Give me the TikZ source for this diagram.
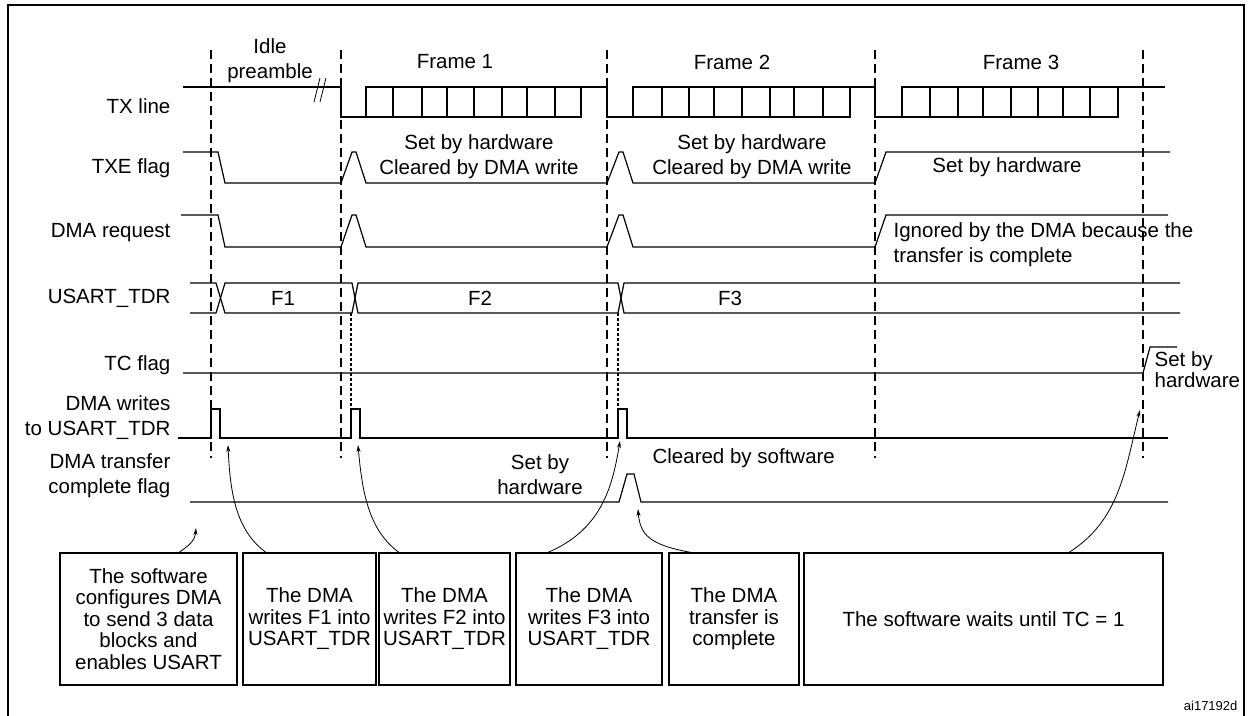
\documentclass[tikz,border=0pt]{standalone}
\usepackage{fontspec}
\setmainfont{Liberation Sans}
\usetikzlibrary{arrows.meta}
\begin{document}
\begin{tikzpicture}[x=1pt,y=-1pt,line width=1.2pt,
  lbl/.style={anchor=east,inner sep=0pt,font=\fontsize{20.5}{25}\selectfont},
  txt/.style={inner sep=0pt,font=\fontsize{20.5}{25}\selectfont,align=center},
  box/.style={draw,inner sep=0pt,font=\fontsize{20.5}{21.5}\selectfont,align=center},
  vdash/.style={dash pattern=on 9pt off 5pt},
  fdash/.style={dash pattern=on 3pt off 2pt},
  arr/.style={-{Stealth[length=7pt,width=4pt]},line width=0.8pt}]
\useasboundingbox (0,0) rectangle (1250,715);
\draw[line width=1.5pt] (8,716) -- (8,5) -- (1244,5) -- (1244,716);
% dashed verticals
\foreach \x in {211,341,607,875,1143} \draw[vdash] (\x,50) -- (\x,458);
\draw[fdash] (351,313) -- (351,409);
\draw[fdash] (618,313) -- (618,409);
% labels
\node[lbl] (lTX) at (171,106) {TX line};
\node[lbl] (lTXE) at (171,168) {TXE flag};
\node[lbl] (lDR) at (171,233) {DMA request};
\node[lbl] (lTDR) at (171,298) {USART\_TDR};
\node[lbl] (lTC) at (171,365) {TC flag};
\node[lbl,align=right] (lDW) at (171,418) {DMA writes\\to USART\_TDR};
\node[lbl,align=right] (lTF) at (171,476) {DMA transfer\\complete flag};
% TX line
\draw (183,87) -- (341,87) -- (341,117) -- (581,117);
\draw (366,87) -- (607,87) -- (607,117) -- (850,117);
\draw (633,87) -- (875,87) -- (875,117) -- (1118,117);
\draw (902,87) -- (1165,87);
\foreach \a/\b in {366/393,393/422,422/447,447/474,474/502,502/527,527/555,555/581,
  633/662,662/689,689/714,714/742,742/770,770/794,794/823,823/850,
  902/930,930/958,958/983,983/1011,1011/1038,1038/1063,1063/1090,1090/1118}
  \draw (\a,87) rectangle (\b,117);
\draw[line width=0.8pt] (314,102) -- (320,78) (320,102) -- (326,78);
\node[txt] (idle) at (270,61) {Idle\\preamble};
\node[txt] (f1) at (455,62) {Frame 1};
\node[txt] (f2) at (732,62) {Frame 2};
\node[txt] (f3) at (1021,62) {Frame 3};
% TXE flag
\draw (183,152) -- (218,152) -- (225,183) -- (341,183) -- (352,152) -- (356,152) -- (366,183)
  -- (607,183) -- (619,152) -- (623,152) -- (633,183) -- (875,183) -- (886,152) -- (1170,152);
\node[txt] (t1) at (479,157) {Set by hardware\\Cleared by DMA write};
\node[txt] (t2) at (752,157) {Set by hardware\\Cleared by DMA write};
\node[txt] (t3) at (1007,167) {Set by hardware};
% DMA request
\draw (181,215) -- (218,215) -- (225,247) -- (341,247) -- (352,215) -- (356,215) -- (366,247)
  -- (607,247) -- (619,215) -- (623,215) -- (633,247) -- (875,247) -- (886,215) -- (1168,215);
\node[txt,align=left,anchor=west] (ign) at (893,245) {Ignored by the DMA because the\\transfer is complete};
% USART_TDR
\draw (190,283) -- (216,283) -- (225,313) -- (352,313) -- (358,283) -- (618,283) -- (624,313) -- (1180,313);
\draw (190,313) -- (216,313) -- (225,283) -- (352,283) -- (358,313) -- (618,313) -- (624,283) -- (1180,283);
\node[txt] (F1) at (283,298) {F1};
\node[txt] (F2) at (480,298) {F2};
\node[txt] (F3) at (730,298) {F3};
% TC flag
\draw (183,373) -- (1143,373) -- (1150,347) -- (1177,347);
\node[txt,align=left,anchor=north west,font=\fontsize{20.5}{21.5}\selectfont] (tcs) at (1154,351) {Set by\\hardware};
% DMA writes
\draw (178,438) -- (211,438) -- (211,409) -- (220,409) -- (220,438) -- (351,438) -- (351,409)
  -- (360,409) -- (360,438) -- (618,438) -- (618,409) -- (627,409) -- (627,438) -- (1168,438);
% transfer complete
\draw (190,502) -- (619,502) -- (627,474) -- (634,474) -- (641,502) -- (1168,502);
\node[txt] (sbh) at (540,475) {Set by\\hardware};
\node[txt,anchor=west] (cbs) at (652,458) {Cleared by software};
% boxes
\node[box,minimum width=177pt,minimum height=132pt] (b1) at (148.5,619) {The software\\configures DMA\\to send 3 data\\blocks and\\enables USART};
\node[box,minimum width=133pt,minimum height=132pt] (b2) at (309.5,619) {The DMA\\writes F1 into\\USART\_TDR};
\node[box,minimum width=131pt,minimum height=132pt] (b3) at (444.5,619) {The DMA\\writes F2 into\\USART\_TDR};
\node[box,minimum width=146pt,minimum height=132pt] (b4) at (589,619) {The DMA\\writes F3 into\\USART\_TDR};
\node[box,minimum width=130pt,minimum height=132pt] (b5) at (734,619) {The DMA\\transfer is\\complete};
\node[box,minimum width=359pt,minimum height=132pt] (b6) at (983.5,619) {The software waits until TC = 1};
\node[inner sep=0pt,anchor=east,font=\fontsize{13}{15}\selectfont] (ref) at (1238,706) {ai17192d};
% arrows
\coordinate (e1) at (196,528);
\coordinate (e2) at (228,445);
\coordinate (e3) at (358,445);
\coordinate (e4) at (620,441);
\coordinate (e5) at (638,509);
\coordinate (e6) at (1140,410);
\draw[arr] (b1.north -| 179,0) .. controls (190,545) and (195,540) .. (e1);
\draw[arr] (b2.north -| 266,0) .. controls (235,530) and (230,490) .. (e2);
\draw[arr] (b3.north -| 399,0) .. controls (368,530) and (362,490) .. (e3);
\draw[arr] (b4.north -| 548,0) .. controls (600,530) and (612,490) .. (e4);
\draw[arr] (b5.north -| 691,0) .. controls (650,545) and (640,535) .. (e5);
\draw[arr] (b6.north -| 1069,0) .. controls (1120,520) and (1125,470) .. (e6);
\end{tikzpicture}
\end{document}
